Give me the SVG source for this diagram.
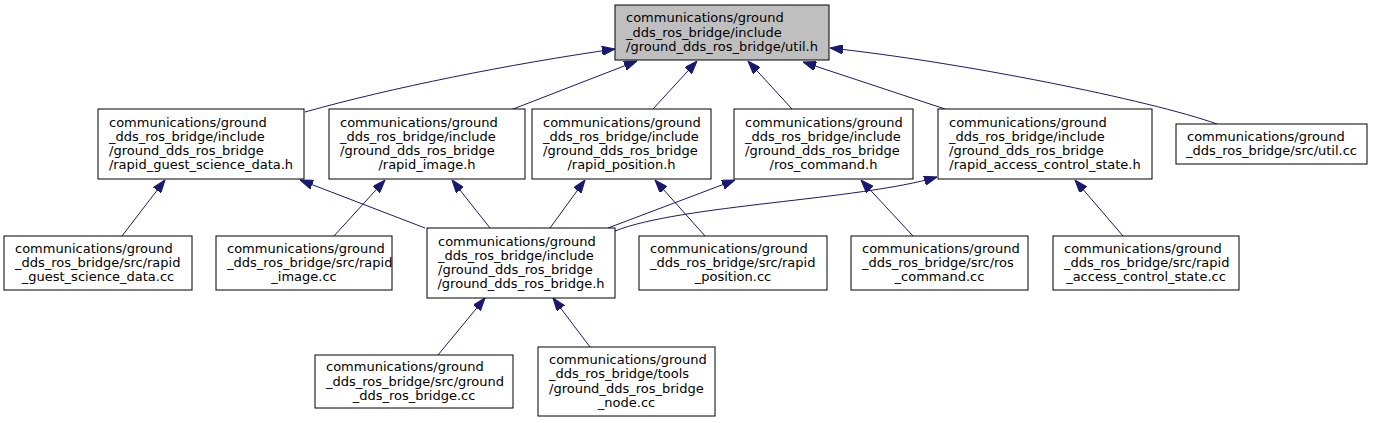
<svg xmlns="http://www.w3.org/2000/svg" width="1375" height="423" viewBox="0 0 1375 423">
<style>
.box{fill:#ffffff;stroke:#000000;stroke-width:1}
.root{fill:#bfbfbf;stroke:#000000;stroke-width:1}
text{font-family:"DejaVu Sans","Liberation Sans",sans-serif;font-size:13px;fill:#000000}
.c{text-anchor:middle}
.e{fill:none;stroke:#191970;stroke-width:1;marker-end:url(#ah)}
</style>
<defs>
<marker id="ah" markerUnits="userSpaceOnUse" viewBox="0 0 13 9.4" refX="13" refY="4.7" markerWidth="13" markerHeight="9.4" orient="auto">
<path d="M0,0 L13,4.7 L0,9.4 z" fill="#191970" stroke="#191970" stroke-width="1"/>
</marker>
</defs>
<rect width="1375" height="423" fill="#ffffff"/>
<g id="connectors">
<path class="e" d="M305,112 C390,88 510,64 615,49"/>
<path class="e" d="M508,111 L637,61"/>
<path class="e" d="M653,109 L697,61"/>
<path class="e" d="M792,109 L748,61"/>
<path class="e" d="M945,109 L803,62"/>
<path class="e" d="M1217,124 C1150,100 960,62 830,48"/>
<path class="e" d="M122,236 L165,180"/>
<path class="e" d="M425,228 L300,180"/>
<path class="e" d="M334,236 L385,180"/>
<path class="e" d="M490,228 L452,180"/>
<path class="e" d="M550,228 L585,180"/>
<path class="e" d="M705,236 L655,180"/>
<path class="e" d="M608,228 L735,180"/>
<path class="e" d="M913,236 L861,180"/>
<path class="e" d="M615,231 C680,205 860,200 937,177"/>
<path class="e" d="M1123,236 L1075,180"/>
<path class="e" d="M438,355 L485,298"/>
<path class="e" d="M590,347 L553,298"/>
</g>
<g id="node_root">
<rect class="root" x="615" y="5" width="214" height="55"/>
<text x="626" y="22.3">communications/ground</text>
<text x="626" y="36.5">_dds_ros_bridge/include</text>
<text class="c" x="722" y="50.7">/ground_dds_ros_bridge/util.h</text>
</g>
<g id="node_guest_h">
<rect class="box" x="98" y="109" width="206" height="70"/>
<text x="109" y="126.7">communications/ground</text>
<text x="109" y="140.9">_dds_ros_bridge/include</text>
<text x="109" y="155.1">/ground_dds_ros_bridge</text>
<text class="c" x="201" y="169.3">/rapid_guest_science_data.h</text>
</g>
<g id="node_image_h">
<rect class="box" x="329" y="109" width="196" height="70"/>
<text x="340" y="126.7">communications/ground</text>
<text x="340" y="140.9">_dds_ros_bridge/include</text>
<text x="340" y="155.1">/ground_dds_ros_bridge</text>
<text class="c" x="427" y="169.3">/rapid_image.h</text>
</g>
<g id="node_position_h">
<rect class="box" x="532" y="109" width="179" height="70"/>
<text x="543" y="126.7">communications/ground</text>
<text x="543" y="140.9">_dds_ros_bridge/include</text>
<text x="543" y="155.1">/ground_dds_ros_bridge</text>
<text class="c" x="621.5" y="169.3">/rapid_position.h</text>
</g>
<g id="node_ros_command_h">
<rect class="box" x="734" y="109" width="179" height="70"/>
<text x="745" y="126.7">communications/ground</text>
<text x="745" y="140.9">_dds_ros_bridge/include</text>
<text x="745" y="155.1">/ground_dds_ros_bridge</text>
<text class="c" x="823.5" y="169.3">/ros_command.h</text>
</g>
<g id="node_access_h">
<rect class="box" x="938" y="109" width="214" height="70"/>
<text x="949" y="126.7">communications/ground</text>
<text x="949" y="140.9">_dds_ros_bridge/include</text>
<text x="949" y="155.1">/ground_dds_ros_bridge</text>
<text class="c" x="1045" y="169.3">/rapid_access_control_state.h</text>
</g>
<g id="node_util_cc">
<rect class="box" x="1176" y="124" width="191" height="40"/>
<text x="1187" y="140.9">communications/ground</text>
<text class="c" x="1271.5" y="155.1">_dds_ros_bridge/src/util.cc</text>
</g>
<g id="node_guest_cc">
<rect class="box" x="4" y="236" width="188" height="54"/>
<text x="15" y="252.8">communications/ground</text>
<text x="15" y="267">_dds_ros_bridge/src/rapid</text>
<text class="c" x="98" y="281.2">_guest_science_data.cc</text>
</g>
<g id="node_image_cc">
<rect class="box" x="216" y="236" width="176" height="54"/>
<text x="227" y="252.8">communications/ground</text>
<text x="227" y="267">_dds_ros_bridge/src/rapid</text>
<text class="c" x="304" y="281.2">_image.cc</text>
</g>
<g id="node_bridge_h">
<rect class="box" x="427" y="228" width="188" height="70"/>
<text x="438" y="245.7">communications/ground</text>
<text x="438" y="259.9">_dds_ros_bridge/include</text>
<text x="438" y="274.1">/ground_dds_ros_bridge</text>
<text class="c" x="521" y="288.3">/ground_dds_ros_bridge.h</text>
</g>
<g id="node_position_cc">
<rect class="box" x="639" y="236" width="188" height="54"/>
<text x="650" y="252.8">communications/ground</text>
<text x="650" y="267">_dds_ros_bridge/src/rapid</text>
<text class="c" x="733" y="281.2">_position.cc</text>
</g>
<g id="node_ros_command_cc">
<rect class="box" x="851" y="236" width="177" height="54"/>
<text x="862" y="252.8">communications/ground</text>
<text x="862" y="267">_dds_ros_bridge/src/ros</text>
<text class="c" x="939.5" y="281.2">_command.cc</text>
</g>
<g id="node_access_cc">
<rect class="box" x="1053" y="236" width="186" height="54"/>
<text x="1064" y="252.8">communications/ground</text>
<text x="1064" y="267">_dds_ros_bridge/src/rapid</text>
<text class="c" x="1146" y="281.2">_access_control_state.cc</text>
</g>
<g id="node_bridge_cc">
<rect class="box" x="315" y="355" width="198" height="53"/>
<text x="326" y="371.3">communications/ground</text>
<text x="326" y="385.5">_dds_ros_bridge/src/ground</text>
<text class="c" x="414" y="399.7">_dds_ros_bridge.cc</text>
</g>
<g id="node_tools">
<rect class="box" x="538" y="347" width="177" height="69"/>
<text x="549" y="364.2">communications/ground</text>
<text x="549" y="378.4">_dds_ros_bridge/tools</text>
<text x="549" y="392.6">/ground_dds_ros_bridge</text>
<text class="c" x="626.5" y="406.8">_node.cc</text>
</g>
</svg>
